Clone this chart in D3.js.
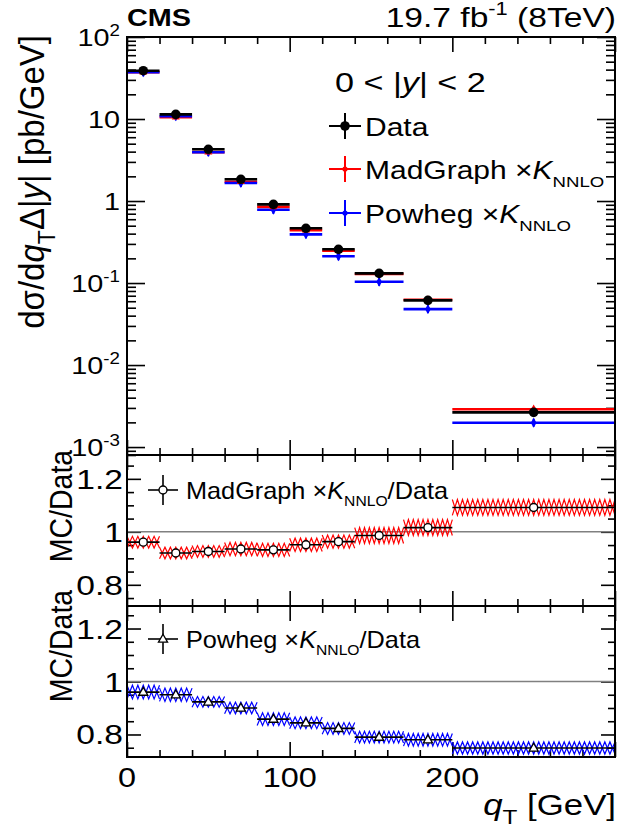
<!DOCTYPE html>
<html><head><meta charset="utf-8">
<script src="https://cdn.jsdelivr.net/npm/d3@7"></script>
<style>body{margin:0;background:#fff} svg{display:block} text{font-family:"Liberation Sans",Arial,Helvetica,sans-serif}</style>
</head><body><svg id="c" width="621" height="833"></svg>
<script>
// ---- data ----
const binLow  = [0, 20, 40, 60, 80, 100, 120, 140, 170, 200];
const binHigh = [20, 40, 60, 80, 100, 120, 140, 170, 200, 300];
const dataXsec = [38.8, 11.4, 4.27, 1.84, 0.91, 0.465, 0.258, 0.131, 0.0615, 0.00265];
const madXsec  = [37.3, 10.5, 3.95, 1.72, 0.848, 0.442, 0.248, 0.129, 0.0625, 0.00289];
const powXsec  = [37.2, 10.8, 3.94, 1.66, 0.781, 0.392, 0.212, 0.1035, 0.048, 0.00198];
const madRatio    = [0.961, 0.920, 0.926, 0.935, 0.932, 0.951, 0.963, 0.986, 1.016, 1.092];
const madRatioErr = [0.022, 0.022, 0.022, 0.025, 0.025, 0.025, 0.025, 0.030, 0.030, 0.030];
const powRatio    = [0.960, 0.950, 0.923, 0.900, 0.858, 0.844, 0.823, 0.790, 0.780, 0.749];
const powRatioErr = [0.026, 0.025, 0.020, 0.022, 0.024, 0.022, 0.022, 0.022, 0.024, 0.023];
const xTickLabels = [0, 100, 200];
const topTickExps = [2, 1, 0, -1, -2, -3];
const ratioTickLabels = [0.8, 1, 1.2];

// ---- layout ----
const svg = d3.select("#c");
const L = 127, R = 615;
const P1 = [37, 455], P2 = [455, 606], P3 = [606, 757];
const SX = 1.2;
const RED = "#ff0000", BLUE = "#0000ff";

const x = d3.scaleLinear().domain([0, 300]).range([L, R]);
const yTop = d3.scaleLog().domain([8e-4, 100]).range([P1[1], P1[0]]);
const yMid = d3.scaleLinear().domain([0.72, 1.29]).range([P2[1], P2[0]]);
const yBot = d3.scaleLinear().domain([0.715, 1.285]).range([P3[1], P3[0]]);

function rich(parent, px, py, parts, size, anchor, rotate, sx) {
  const s_ = sx || SX;
  const g = parent.append("g").attr("transform", rotate
    ? `translate(${px},${py}) rotate(-90) scale(1,${s_})`
    : `translate(${px},${py}) scale(${s_},1)`);
  const t = g.append("text").attr("text-anchor", anchor || "start")
    .attr("font-size", size).attr("fill", "#000");
  let shift = 0;
  parts.forEach(p => {
    const s = t.append("tspan").text(p.t);
    let target = 0, fs = size;
    if (p.sub) { target = 0.32 * size; fs = size * (p.sc || 0.65); }
    else if (p.sup) { target = -0.42 * size; fs = size * (p.sc || 0.65); }
    s.attr("dy", target - shift).attr("font-size", fs);
    shift = target;
    if (p.i) s.attr("font-style", "italic");
    if (p.b) s.attr("font-weight", "bold");
  });
  return g;
}

function xTicks(p) {
  const majors = [0, 100, 200, 300];
  const minors = d3.range(0, 301, 20).filter(v => v % 100 !== 0);
  const mk = (axisFn, vals, len, y) => svg.append("g").attr("transform", `translate(0,${y})`)
    .call(axisFn(x).tickValues(vals).tickSize(len).tickFormat(""))
    .call(g => g.select(".domain").remove())
    .call(g => g.selectAll("line").attr("stroke-width", 1.6));
  mk(d3.axisTop, majors, 15, p[1]); mk(d3.axisTop, minors, 7, p[1]);
  mk(d3.axisBottom, majors, 15, p[0]); mk(d3.axisBottom, minors, 7, p[0]);
}
function yTicks(scale, majors, minors, majLen, minLen) {
  const mk = (axisFn, vals, len, xx) => svg.append("g").attr("transform", `translate(${xx},0)`)
    .call(axisFn(scale).tickValues(vals).tickSize(len).tickFormat(""))
    .call(g => g.select(".domain").remove())
    .call(g => g.selectAll("line").attr("stroke-width", 1.6));
  mk(d3.axisRight, majors, majLen, L); mk(d3.axisRight, minors, minLen, L);
  mk(d3.axisLeft, majors, majLen, R); mk(d3.axisLeft, minors, minLen, R);
}

// ---------- TOP PANEL ----------
const logMaj = topTickExps.map(e => Math.pow(10, e));
const logMin = [];
for (let e = -4; e <= 1; e++) for (let m = 2; m <= 9; m++) {
  const v = m * Math.pow(10, e);
  if (v >= 8e-4 && v <= 100) logMin.push(v);
}
yTicks(yTop, logMaj, logMin, 18, 9);
xTicks(P1);

const bins = binLow.map((lo, i) => ({lo, hi: binHigh[i], c: (lo + binHigh[i]) / 2, i}));
const gTop = svg.append("g");
function hbars(vals, color, w) {
  gTop.selectAll(null).data(bins).join("line")
    .attr("x1", d => x(d.lo)).attr("x2", d => x(d.hi))
    .attr("y1", d => yTop(vals[d.i])).attr("y2", d => yTop(vals[d.i]))
    .attr("stroke", color).attr("stroke-width", w);
}
hbars(madXsec, RED, 2.6);
hbars(powXsec, BLUE, 2.6);
gTop.selectAll(null).data(bins).join("line")
  .attr("x1", d => x(d.c)).attr("x2", d => x(d.c))
  .attr("y1", d => yTop(powXsec[d.i]) - 4).attr("y2", d => yTop(powXsec[d.i]) + 4)
  .attr("stroke", BLUE).attr("stroke-width", 2);
gTop.selectAll(null).data(bins).join("path")
  .attr("transform", d => `translate(${x(d.c)},${yTop(powXsec[d.i])})`)
  .attr("d", d3.symbol(d3.symbolDiamond, 28)).attr("fill", BLUE);
gTop.selectAll(null).data(bins).join("path")
  .attr("transform", d => `translate(${x(d.c)},${yTop(madXsec[d.i])})`)
  .attr("d", d3.symbol(d3.symbolTriangle, 28)).attr("fill", RED);
hbars(dataXsec, "#000", 2.6);
gTop.selectAll(null).data(bins).join("circle")
  .attr("cx", d => x(d.c)).attr("cy", d => yTop(dataXsec[d.i])).attr("r", 4.8).attr("fill", "#000");

// tick labels
topTickExps.forEach(e => {
  const yy = yTop(Math.pow(10, e)) + 8.6;
  let parts;
  if (e === 0) parts = [{t: "1"}];
  else if (e === 1) parts = [{t: "10"}];
  else parts = [{t: "10"}, {t: String(e), sup: true}];
  rich(svg, 120, yy, parts, 24, "end");
});

// legend
rich(svg, 335, 92, [{t: "0 < |"}, {t: "y", i: true}, {t: "| < 2"}], 28.5, "start");
function legMarker(cx, cy, color, kind) {
  svg.append("line").attr("x1", cx - 16).attr("x2", cx + 16).attr("y1", cy).attr("y2", cy)
    .attr("stroke", color).attr("stroke-width", 2);
  svg.append("line").attr("x1", cx).attr("x2", cx).attr("y1", cy - 13).attr("y2", cy + 13)
    .attr("stroke", color).attr("stroke-width", 2);
  if (kind === "data") svg.append("circle").attr("cx", cx).attr("cy", cy).attr("r", 4.8).attr("fill", color);
  else svg.append("circle").attr("cx", cx).attr("cy", cy).attr("r", 2.6).attr("fill", color);
}
legMarker(345, 126, "#000", "data");
legMarker(345, 169, RED, "mc");
legMarker(345, 213, BLUE, "mc");
rich(svg, 365, 136, [{t: "Data"}], 25);
rich(svg, 365, 179, [{t: "MadGraph ×"}, {t: "K", i: true}, {t: "NNLO", sub: true, sc: 0.62}], 25);
rich(svg, 365, 223, [{t: "Powheg ×"}, {t: "K", i: true}, {t: "NNLO", sub: true, sc: 0.62}], 25);

// ---------- RATIO PANELS ----------
function ratioPanel(P, scale, ratio, err, color, marker, legendParts, legY) {
  const minors = [0.75, 0.85, 0.9, 0.95, 1.05, 1.1, 1.15, 1.25].filter(v => v >= scale.domain()[0] && v <= scale.domain()[1]);
  yTicks(scale, ratioTickLabels, minors, 14, 7);
  xTicks(P);
  const g = svg.append("g");
  g.append("line").attr("x1", L).attr("x2", R).attr("y1", scale(1)).attr("y2", scale(1))
    .attr("stroke", "#808080").attr("stroke-width", 1.5);
  // hatched uncertainty band
  bins.forEach(d => {
    const x0 = x(d.lo), x1 = x(d.hi);
    const yt = scale(ratio[d.i] + err[d.i]), yb = scale(ratio[d.i] - err[d.i]);
    const n = Math.max(2, Math.round((x1 - x0) / 10));
    const h = (x1 - x0) / (2 * n);
    const a = [], b = [];
    for (let k = 0; k <= 2 * n; k++) {
      a.push([x0 + k * h, k % 2 ? yb : yt]);
      b.push([x0 + k * h, k % 2 ? yt : yb]);
    }
    [a, b].forEach(pts => g.append("path").attr("d", d3.line()(pts))
      .attr("fill", "none").attr("stroke", color).attr("stroke-width", 1.2));
  });
  g.selectAll(null).data(bins).join("line")
    .attr("x1", d => x(d.lo)).attr("x2", d => x(d.hi))
    .attr("y1", d => scale(ratio[d.i])).attr("y2", d => scale(ratio[d.i]))
    .attr("stroke", "#000").attr("stroke-width", 1.6);
  if (marker === "circle") {
    g.selectAll(null).data(bins).join("circle")
      .attr("cx", d => x(d.c)).attr("cy", d => scale(ratio[d.i])).attr("r", 4)
      .attr("fill", "#fff").attr("stroke", "#000").attr("stroke-width", 1.4);
  } else {
    g.selectAll(null).data(bins).join("path")
      .attr("transform", d => `translate(${x(d.c)},${scale(ratio[d.i]) + 0.5})`)
      .attr("d", d3.symbol(d3.symbolTriangle, 36))
      .attr("fill", "#fff").attr("stroke", "#000").attr("stroke-width", 1.3);
  }
  // legend
  const cx = 163;
  svg.append("line").attr("x1", cx - 15).attr("x2", cx + 15).attr("y1", legY).attr("y2", legY)
    .attr("stroke", "#000").attr("stroke-width", 1.6);
  svg.append("line").attr("x1", cx).attr("x2", cx).attr("y1", legY - 15).attr("y2", legY + 15)
    .attr("stroke", "#000").attr("stroke-width", 1.6);
  if (marker === "circle") svg.append("circle").attr("cx", cx).attr("cy", legY).attr("r", 4)
    .attr("fill", "#fff").attr("stroke", "#000").attr("stroke-width", 1.4);
  else svg.append("path").attr("transform", `translate(${cx},${legY + 0.5})`)
    .attr("d", d3.symbol(d3.symbolTriangle, 36)).attr("fill", "#fff").attr("stroke", "#000").attr("stroke-width", 1.3);
  rich(svg, 186, legY + 9, legendParts, 23, "start", false, 1.1);
  ratioTickLabels.forEach(v => rich(svg, 123, scale(v) + 10, [{t: String(v)}], 28, "end"));
}
ratioPanel(P2, yMid, madRatio, madRatioErr, RED, "circle",
  [{t: "MadGraph ×"}, {t: "K", i: true}, {t: "NNLO", sub: true, sc: 0.62}, {t: "/Data"}], 490);
ratioPanel(P3, yBot, powRatio, powRatioErr, BLUE, "triangle",
  [{t: "Powheg ×"}, {t: "K", i: true}, {t: "NNLO", sub: true, sc: 0.62}, {t: "/Data"}], 639);

// frames
[P1, P2, P3].forEach(p => svg.append("rect").attr("x", L).attr("y", p[0])
  .attr("width", R - L).attr("height", p[1] - p[0])
  .attr("fill", "none").attr("stroke", "#000").attr("stroke-width", 2));

// x tick labels and titles
xTickLabels.forEach(v => rich(svg, x(v), 787, [{t: String(v)}], 27, "middle"));
rich(svg, 616, 815, [{t: "q", i: true}, {t: "T", sub: true, sc: 0.7}, {t: " [GeV]"}], 29, "end");
rich(svg, 44, 35, [{t: "dσ/d"}, {t: "q", i: true}, {t: "T", sub: true, sc: 0.7}, {t: "Δ|"}, {t: "y", i: true}, {t: "| [pb/GeV]"}], 33, "end", true, 1.05);
rich(svg, 72, 506, [{t: "MC/Data"}], 28.5, "middle", true, 1.1);
rich(svg, 72, 646, [{t: "MC/Data"}], 28.5, "middle", true, 1.1);
rich(svg, 127, 26, [{t: "CMS", b: true}], 24);
rich(svg, 616, 27, [{t: "19.7 fb"}, {t: "-1", sup: true}, {t: " (8TeV)"}], 28, "end");
</script></body></html>
